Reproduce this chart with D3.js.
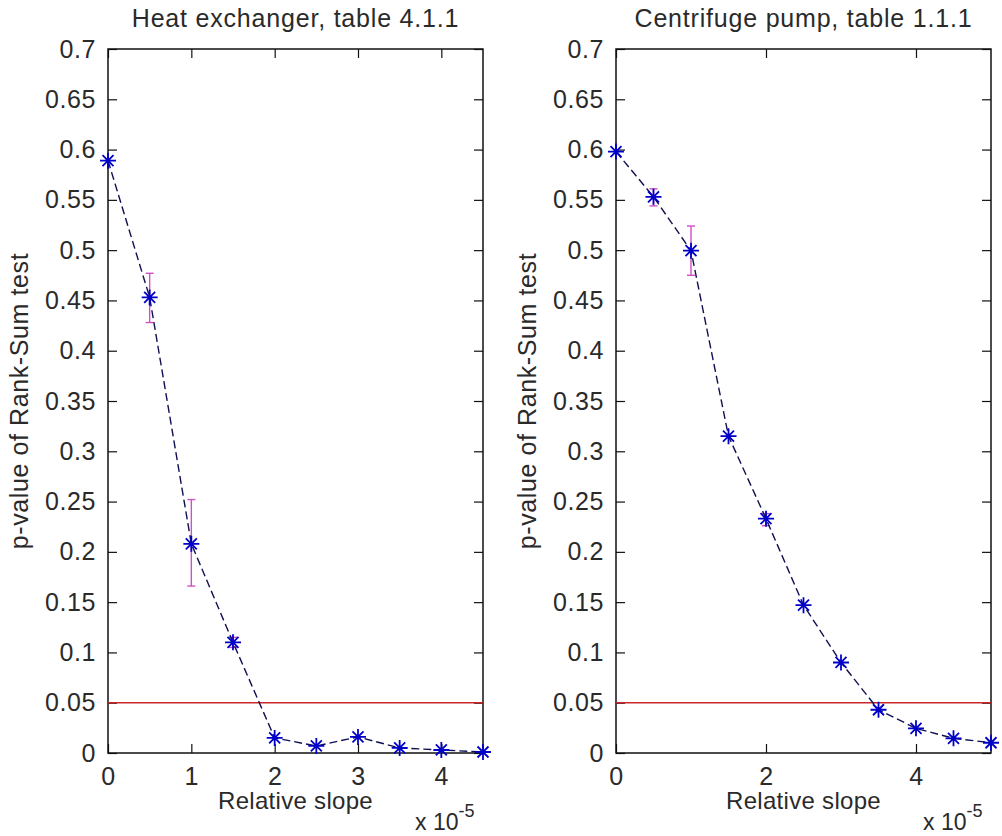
<!DOCTYPE html>
<html>
<head>
<meta charset="utf-8">
<script src="https://cdn.jsdelivr.net/npm/d3@7"></script>
<style>
html,body{margin:0;padding:0;background:#fff;}
svg{display:block;}
text{font-family:"Liberation Sans",Arial,sans-serif;fill:#2a2a2a;}
</style>
</head>
<body>
<svg id="chart" width="1002" height="836"></svg>
<script>
// ---- data ----
const heatTitle = "Heat exchanger, table 4.1.1";
const pumpTitle = "Centrifuge pump, table 1.1.1";
const xLabel = "Relative slope";
const yLabel = "p-value of Rank-Sum test";

const heatSlope = [0, 0.5, 1, 1.5, 2, 2.5, 3, 3.5, 4, 4.5];
const heatP     = [0.589, 0.453, 0.208, 0.110, 0.015, 0.007, 0.016, 0.005, 0.003, 0.001];
const heatErrX  = [0.5, 1, 1.5];
const heatErrLo = [0.428, 0.166, 0.105];
const heatErrHi = [0.477, 0.252, 0.115];

const pumpSlope = [0, 0.5, 1, 1.5, 2, 2.5, 3, 3.5, 4, 4.5, 5];
const pumpP     = [0.598, 0.553, 0.4995, 0.315, 0.233, 0.147, 0.090, 0.043, 0.0245, 0.0146, 0.0102];
const pumpErrX  = [0.5, 1, 2];
const pumpErrLo = [0.544, 0.475, 0.226];
const pumpErrHi = [0.561, 0.524, 0.238];

const heatXTicks = [0, 1, 2, 3, 4];
const pumpXTicks = [0, 2, 4];
const yTicks = [0, 0.05, 0.1, 0.15, 0.2, 0.25, 0.3, 0.35, 0.4, 0.45, 0.5, 0.55, 0.6, 0.65, 0.7];
const threshold = 0.05;
const xExponent = "-5";

// ---- drawing ----
const svg = d3.select("#chart");
const plotTop = 49, plotBottom = 753;
const tickLen = 9;
const fmtY = d => String(+d.toFixed(2));

function panel(cfg) {
  const x = d3.scaleLinear().domain(cfg.xDomain).range([cfg.left, cfg.right]);
  const y = d3.scaleLinear().domain([0, 0.7]).range([plotBottom, plotTop]);
  const g = svg.append("g");

  // axes (ticks inward, MATLAB-style box)
  const axB = g.append("g").attr("transform", `translate(0,${plotBottom})`)
    .call(d3.axisBottom(x).tickValues(cfg.xTicks).tickSizeInner(-tickLen).tickSizeOuter(0).tickPadding(14).tickFormat(d3.format("d")));
  const axT = g.append("g").attr("transform", `translate(0,${plotTop})`)
    .call(d3.axisTop(x).tickValues(cfg.xTicks).tickSizeInner(-tickLen).tickSizeOuter(0).tickFormat(""));
  const axL = g.append("g").attr("transform", `translate(${cfg.left},0)`)
    .call(d3.axisLeft(y).tickValues(yTicks).tickSizeInner(-tickLen).tickSizeOuter(0).tickPadding(12).tickFormat(fmtY));
  const axR = g.append("g").attr("transform", `translate(${cfg.right},0)`)
    .call(d3.axisRight(y).tickValues(yTicks).tickSizeInner(-tickLen).tickSizeOuter(0).tickFormat(""));
  [axB, axT, axL, axR].forEach(a => {
    a.select(".domain").remove();
    a.selectAll("line").attr("stroke", "#111").attr("stroke-width", 1.2);
    a.selectAll("text").attr("font-size", 25).attr("fill", "#2a2a2a")
      .attr("font-family", '"Liberation Sans",Arial,sans-serif').attr("letter-spacing", "0.6px");
  });
  axB.selectAll("text").attr("dy", "0.71em");

  // box
  g.append("rect").attr("x", cfg.left).attr("y", plotTop)
    .attr("width", cfg.right - cfg.left).attr("height", plotBottom - plotTop)
    .attr("fill", "none").attr("stroke", "#111").attr("stroke-width", 1.5);

  // threshold line
  g.append("line").attr("x1", cfg.left).attr("x2", cfg.right)
    .attr("y1", y(threshold)).attr("y2", y(threshold))
    .attr("stroke", "#c8282a").attr("stroke-width", 1.5);

  // error bars
  const eb = g.append("g").attr("stroke", "#d050c8").attr("stroke-width", 1.4);
  cfg.errX.forEach((xv, i) => {
    const cx = x(xv), y1 = y(cfg.errLo[i]), y2 = y(cfg.errHi[i]);
    eb.append("line").attr("x1", cx).attr("x2", cx).attr("y1", y1).attr("y2", y2);
    eb.append("line").attr("x1", cx - 4).attr("x2", cx + 4).attr("y1", y1).attr("y2", y1);
    eb.append("line").attr("x1", cx - 4).attr("x2", cx + 4).attr("y1", y2).attr("y2", y2);
  });

  // dashed line
  const pts = cfg.xs.map((v, i) => [v, cfg.ys[i]]);
  g.append("path").datum(pts)
    .attr("d", d3.line().x(d => x(d[0])).y(d => y(d[1])))
    .attr("fill", "none").attr("stroke", "#101050").attr("stroke-width", 1.4)
    .attr("stroke-dasharray", "8,4");

  // asterisk markers
  const s = 8, d = 5.5;
  const mk = g.append("g").attr("stroke", "#0000c8").attr("stroke-width", 1.8);
  pts.forEach(p => {
    const cx = x(p[0]), cy = y(p[1]);
    mk.append("path").attr("d",
      `M${cx - s},${cy}H${cx + s}M${cx},${cy - s}V${cy + s}` +
      `M${cx - d},${cy - d}L${cx + d},${cy + d}M${cx - d},${cy + d}L${cx + d},${cy - d}`);
  });

  // title
  g.append("text").attr("x", (cfg.left + cfg.right) / 2).attr("y", 27)
    .attr("text-anchor", "middle").attr("font-size", 25).attr("letter-spacing", "0.8px").text(cfg.title);
  // x label
  g.append("text").attr("x", (cfg.left + cfg.right) / 2).attr("y", 809)
    .attr("text-anchor", "middle").attr("font-size", 24).attr("letter-spacing", "0.3px").text(xLabel);
  // exponent
  const ex = g.append("text").attr("x", cfg.right - 68).attr("y", 830).attr("font-size", 23);
  ex.append("tspan").text("x 10");
  ex.append("tspan").attr("dy", -13).attr("font-size", 18).text(xExponent);
  // y label
  g.append("text").attr("transform", `translate(${cfg.left - 80},${(plotTop + plotBottom) / 2}) rotate(-90)`)
    .attr("text-anchor", "middle").attr("font-size", 25).attr("letter-spacing", "0.6px").text(yLabel);
}

panel({ left: 108, right: 483, xDomain: [0, 4.5], xTicks: heatXTicks, xs: heatSlope, ys: heatP,
        errX: heatErrX, errLo: heatErrLo, errHi: heatErrHi, title: heatTitle });
panel({ left: 616, right: 991, xDomain: [0, 5], xTicks: pumpXTicks, xs: pumpSlope, ys: pumpP,
        errX: pumpErrX, errLo: pumpErrLo, errHi: pumpErrHi, title: pumpTitle });
</script>
</body>
</html>
